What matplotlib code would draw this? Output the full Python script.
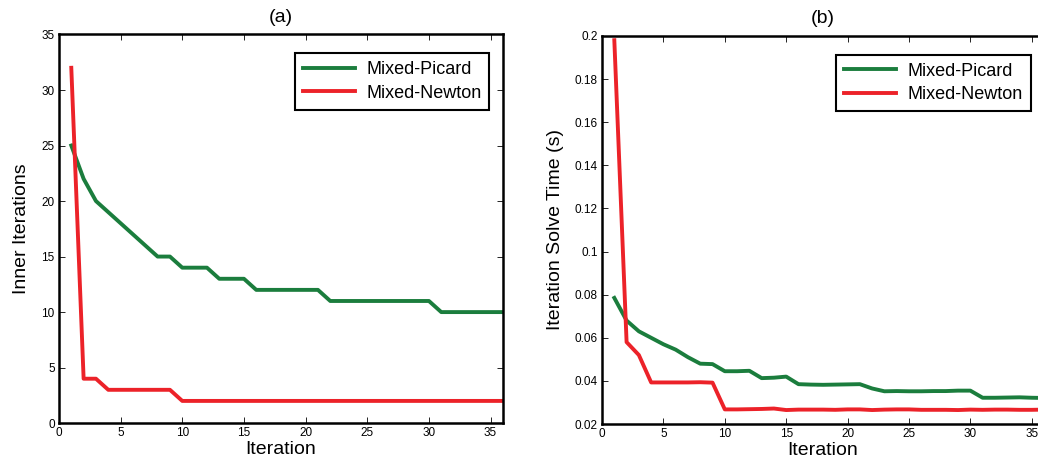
import matplotlib.pyplot as plt
import numpy as np

plt.rcParams['font.family'] = ['Liberation Sans', 'DejaVu Sans']

iters = np.arange(1, 37)

# (a) inner iterations per outer iteration
picard_inner = [25, 22, 20, 19, 18, 17, 16, 15, 15, 14, 14, 14, 13, 13, 13, 12, 12, 12,
                12, 12, 12, 11, 11, 11, 11, 11, 11, 11, 11, 11, 10, 10, 10, 10, 10, 10]
newton_inner = [32, 4, 4, 3, 3, 3, 3, 3, 3, 2, 2, 2, 2, 2, 2, 2, 2, 2,
                2, 2, 2, 2, 2, 2, 2, 2, 2, 2, 2, 2, 2, 2, 2, 2, 2, 2]

# (b) solve time per iteration (s)
picard_time = [0.0785, 0.068, 0.063, 0.060, 0.057, 0.0545, 0.051, 0.048, 0.0478,
               0.0445, 0.0445, 0.0447, 0.0413, 0.0415, 0.042, 0.0385, 0.0383, 0.0382,
               0.0383, 0.0384, 0.0385, 0.0365, 0.0352, 0.0353, 0.0352, 0.0352, 0.0353,
               0.0353, 0.0355, 0.0355, 0.0322, 0.0322, 0.0323, 0.0324, 0.0322, 0.0321]
newton_time = [0.198, 0.058, 0.052, 0.0393, 0.0393, 0.0393, 0.0393, 0.0394, 0.0392,
               0.0268, 0.0268, 0.0269, 0.027, 0.0272, 0.0265, 0.0267, 0.0267, 0.0267,
               0.0266, 0.0268, 0.0268, 0.0265, 0.0267, 0.0268, 0.0268, 0.0266, 0.0266,
               0.0266, 0.0265, 0.0267, 0.0266, 0.0267, 0.0267, 0.0266, 0.0266, 0.0267]

green = '#1b7d3d'
red = '#ec2229'

fig = plt.figure(figsize=(10.38, 4.66), dpi=100)
ax1 = fig.add_axes([0.0568, 0.092, 0.4277, 0.834])
ax2 = fig.add_axes([0.58, 0.090, 0.4258, 0.833])


def style(ax):
    for s in ax.spines.values():
        s.set_linewidth(1.8)
    ax.tick_params(direction='in', top=True, right=True, length=4, width=0.6,
                   labelsize=8.5, pad=3)


ax1.plot(iters, picard_inner, color=green, lw=2.8, label='Mixed-Picard')
ax1.plot(iters, newton_inner, color=red, lw=2.8, label='Mixed-Newton')
ax1.set_xlim(0, 36)
ax1.set_ylim(0, 35)
ax1.set_xticks(range(0, 36, 5))
ax1.set_yticks(range(0, 36, 5))
ax1.set_xlabel('Iteration', fontsize=14, labelpad=1)
ax1.set_ylabel('Inner Iterations', fontsize=14, labelpad=8)
ax1.set_title('(a)', fontsize=14, pad=9)
style(ax1)

ax2.plot(iters, picard_time, color=green, lw=2.8, label='Mixed-Picard')
ax2.plot(iters, newton_time, color=red, lw=2.8, label='Mixed-Newton')
ax2.set_xlim(0, 36)
ax2.set_ylim(0.02, 0.2)
ax2.set_xticks(range(0, 36, 5))
ax2.set_yticks(np.arange(0.02, 0.201, 0.02))
ax2.set_yticklabels(['0.02', '0.04', '0.06', '0.08', '0.1', '0.12', '0.14',
                     '0.16', '0.18', '0.2'])
ax2.set_xlabel('Iteration', fontsize=14, labelpad=1)
ax2.set_ylabel('Iteration Solve Time (s)', fontsize=14, labelpad=8)
ax2.set_title('(b)', fontsize=14, pad=9)
style(ax2)

for ax in (ax1, ax2):
    leg = ax.legend(loc='upper right', fontsize=13, fancybox=False,
                    edgecolor='black', framealpha=1, handlelength=2.9,
                    borderpad=0.45, labelspacing=0.35, handletextpad=0.6,
                    bbox_to_anchor=(0.99, 0.975))
    leg.get_frame().set_linewidth(1.5)

fig.savefig('out.png', dpi=100)
